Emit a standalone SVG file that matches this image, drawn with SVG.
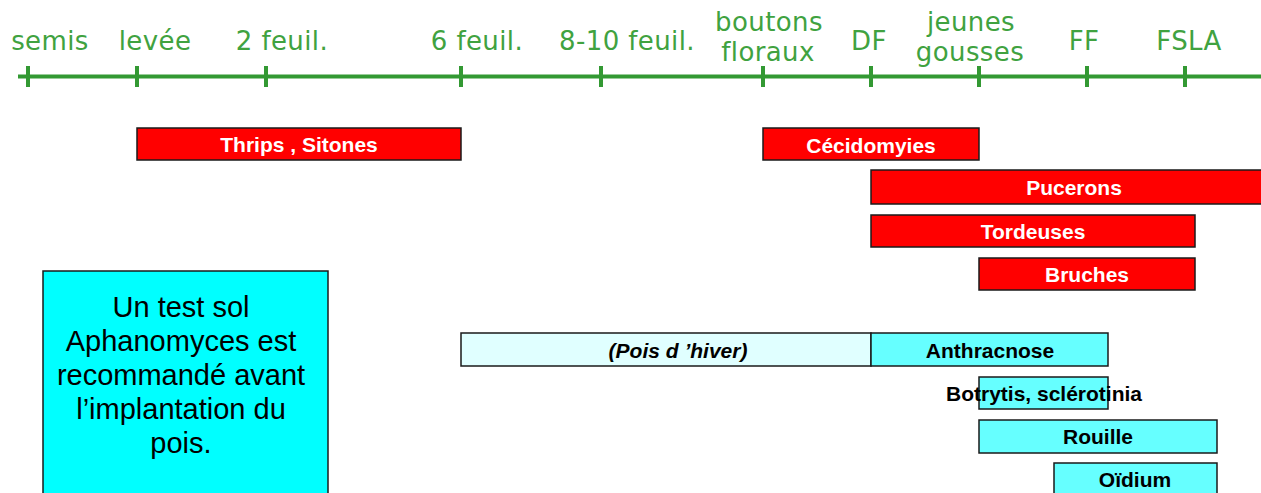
<svg xmlns="http://www.w3.org/2000/svg" width="1261" height="493" viewBox="0 0 1261 493">
<style>
.stage{font-family:"DejaVu Sans","Verdana",sans-serif;font-size:26px;fill:#40a240;text-anchor:middle;letter-spacing:0.4px}
.axis{stroke:#339933;stroke-width:4;fill:none}
.red{fill:#ff0000;stroke:#1a1a1a;stroke-width:1.5}
.cyan{fill:#66ffff;stroke:#1a1a1a;stroke-width:1.5}
.pale{fill:#e0ffff;stroke:#1a1a1a;stroke-width:1.5}
.wt{font-family:"Liberation Sans",Arial,sans-serif;font-weight:bold;font-size:21px;fill:#ffffff;text-anchor:middle}
.bt{font-family:"Liberation Sans",Arial,sans-serif;font-weight:bold;font-size:21px;fill:#000000;text-anchor:middle}
.note{font-family:"Liberation Sans",Arial,sans-serif;font-size:29px;fill:#000000;text-anchor:middle}
</style>
<g id="timeline">
<line class="axis" x1="18" y1="76.5" x2="1261" y2="76.5"/>
<path class="axis" d="M28 66V87M137 66V87M266 66V87M461 66V87M601 66V87M763 66V87M871 66V87M979 66V87M1087 66V87M1185 66V87"/>
</g>
<g id="stages">
<text class="stage" x="50" y="50">semis</text>
<text class="stage" x="155" y="50">levée</text>
<text class="stage" x="282" y="50">2 feuil.</text>
<text class="stage" x="477" y="50">6 feuil.</text>
<text class="stage" x="627" y="50">8-10 feuil.</text>
<text class="stage" x="769" y="31">boutons</text>
<text class="stage" x="768" y="61">floraux</text>
<text class="stage" x="869" y="50">DF</text>
<text class="stage" x="971" y="31">jeunes</text>
<text class="stage" x="970" y="61">gousses</text>
<text class="stage" x="1084" y="50">FF</text>
<text class="stage" x="1189" y="50">FSLA</text>
</g>
<g id="thrips"><rect class="red" x="137" y="128" width="324" height="32"/><text class="wt" x="299" y="152">Thrips , Sitones</text></g>
<g id="cecidomyies"><rect class="red" x="763" y="128" width="216" height="32"/><text class="wt" x="871" y="152.5">Cécidomyies</text></g>
<g id="pucerons"><rect class="red" x="871" y="170" width="410" height="34"/><text class="wt" x="1074" y="195">Pucerons</text></g>
<g id="tordeuses"><rect class="red" x="871" y="215" width="324" height="32"/><text class="wt" x="1033" y="239">Tordeuses</text></g>
<g id="bruches"><rect class="red" x="979" y="258" width="216" height="32"/><text class="wt" x="1087" y="282">Bruches</text></g>
<g id="note"><rect x="43" y="271" width="285" height="240" fill="#00ffff" stroke="#1a1a1a" stroke-width="1.5"/>
<text class="note" x="181" y="317">Un test sol</text>
<text class="note" x="181" y="351">Aphanomyces est</text>
<text class="note" x="181" y="385">recommandé avant</text>
<text class="note" x="181" y="419">l’implantation du</text>
<text class="note" x="181" y="453">pois.</text>
</g>
<g id="pois-hiver"><rect class="pale" x="461" y="333" width="410" height="33"/><text class="bt" x="678" y="358" font-style="italic">(Pois d ’hiver)</text></g>
<g id="anthracnose"><rect class="cyan" x="871" y="333" width="237" height="33"/><text class="bt" x="990" y="358">Anthracnose</text></g>
<g id="botrytis"><rect class="cyan" x="979" y="377" width="129" height="32"/><text class="bt" x="1044" y="401">Botrytis, sclérotinia</text></g>
<g id="rouille"><rect class="cyan" x="979" y="420" width="238" height="33"/><text class="bt" x="1098" y="444">Rouille</text></g>
<g id="oidium"><rect class="cyan" x="1054" y="463" width="163" height="40"/><text class="bt" x="1135" y="487">Oïdium</text></g>
</svg>
